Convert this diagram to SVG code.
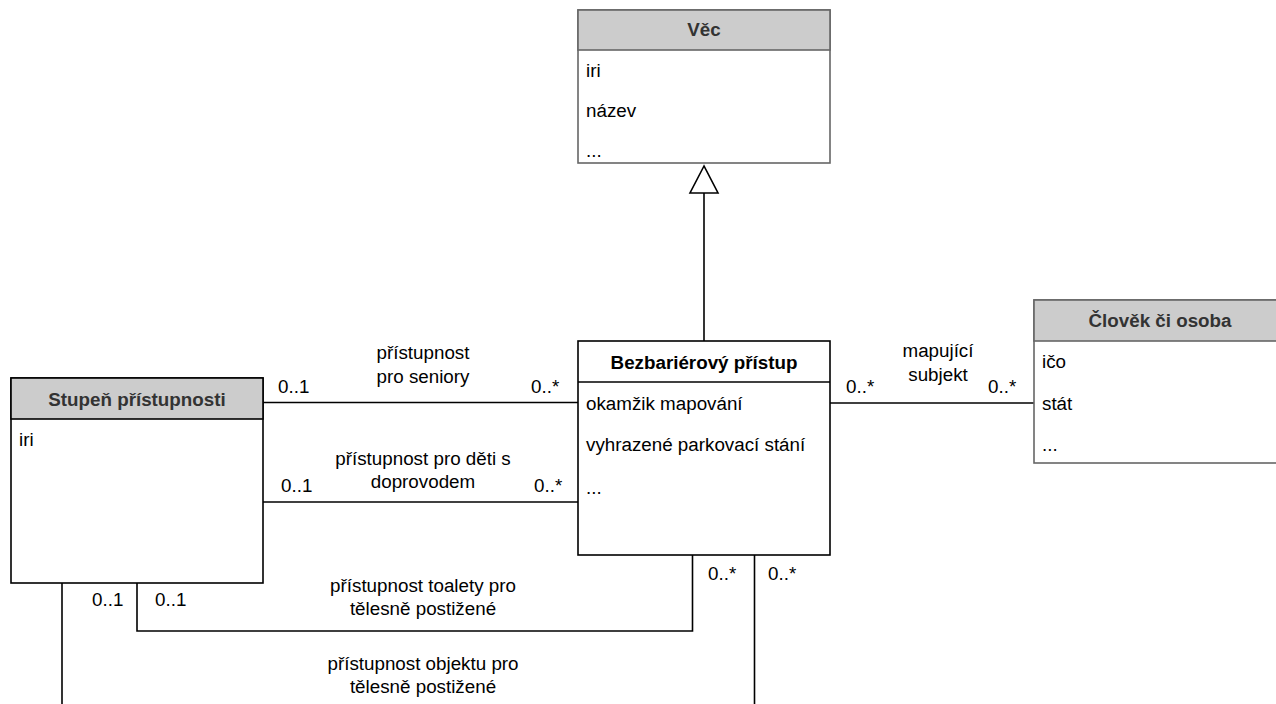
<svg xmlns="http://www.w3.org/2000/svg" width="1276" height="704" viewBox="0 0 1276 704">
<style>
text{font-family:"Liberation Sans",Arial,sans-serif;font-size:18.8px;fill:#000}
.t{font-weight:bold;fill:#333;text-anchor:middle}
.tb{font-weight:bold;fill:#000;text-anchor:middle}
.c{text-anchor:middle}
.g{fill:#fff;stroke:#666;stroke-width:1.6}
.gh{fill:#ccc;stroke:#666;stroke-width:1.6}
.k{fill:#fff;stroke:#000;stroke-width:1.6}
.kh{fill:#ccc;stroke:#000;stroke-width:1.6}
.ln{fill:none;stroke:#000;stroke-width:1.6}
</style>
<rect width="1276" height="704" fill="#fff"/>
<g id="connectors">
<line class="ln" x1="704" y1="193" x2="704" y2="341"/>
<polygon points="704,166 690,193 718,193" fill="#fff" stroke="#000" stroke-width="1.6"/>
<line class="ln" x1="263" y1="402.5" x2="578" y2="402.5"/>
<line class="ln" x1="263" y1="502" x2="578" y2="502"/>
<line class="ln" x1="830" y1="403" x2="1034" y2="403"/>
<polyline class="ln" points="692.5,555 692.5,631 137,631 137,583"/>
<line class="ln" x1="754.5" y1="555" x2="754.5" y2="704"/>
<line class="ln" x1="62" y1="583" x2="62" y2="704"/>
<text class="c" x="423" y="359">přístupnost</text>
<text class="c" x="423" y="383">pro seniory</text>
<text x="278" y="393">0..1</text>
<text x="531" y="393">0..*</text>
<text class="c" x="423" y="465">přístupnost pro děti s</text>
<text class="c" x="423" y="488">doprovodem</text>
<text x="281" y="492">0..1</text>
<text x="534" y="492">0..*</text>
<text class="c" x="938" y="357">mapující</text>
<text class="c" x="938" y="381">subjekt</text>
<text x="846" y="393">0..*</text>
<text x="988" y="393">0..*</text>
<text class="c" x="423" y="592">přístupnost toalety pro</text>
<text class="c" x="423" y="615">tělesně postižené</text>
<text x="92" y="606">0..1</text>
<text x="155" y="606">0..1</text>
<text x="708" y="580">0..*</text>
<text x="768" y="580">0..*</text>
<text class="c" x="423" y="670">přístupnost objektu pro</text>
<text class="c" x="423" y="693">tělesně postižené</text>
</g>
<g id="vec">
<rect class="g" x="578" y="10" width="252" height="153"/>
<rect class="gh" x="578" y="10" width="252" height="40"/>
<text class="t" x="704" y="36">Věc</text>
<text x="586" y="77">iri</text>
<text x="586" y="117">název</text>
<text x="586" y="157">...</text>
</g>
<g id="bezbarierovy">
<rect class="k" x="578" y="341" width="252" height="214"/>
<line class="ln" x1="578" y1="382" x2="830" y2="382"/>
<text class="tb" x="704" y="369">Bezbariérový přístup</text>
<text x="586" y="410">okamžik mapování</text>
<text x="586" y="451">vyhrazené parkovací stání</text>
<text x="586" y="494">...</text>
</g>
<g id="stupen">
<rect class="k" x="11" y="378" width="252" height="205"/>
<rect class="kh" x="11" y="378" width="252" height="41"/>
<text class="t" x="137" y="406">Stupeň přístupnosti</text>
<text x="19" y="446">iri</text>
</g>
<g id="clovek">
<rect class="g" x="1034" y="300" width="252" height="163"/>
<rect class="gh" x="1034" y="300" width="252" height="41"/>
<text class="t" x="1160" y="327">Člověk či osoba</text>
<text x="1042" y="368">ičo</text>
<text x="1042" y="410">stát</text>
<text x="1042" y="451">...</text>
</g>
</svg>
